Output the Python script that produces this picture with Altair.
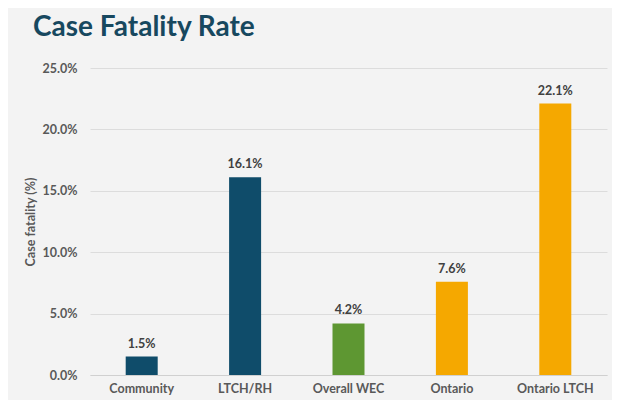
import altair as alt
import pandas as pd

categories = ["Community", "LTCH/RH", "Overall WEC", "Ontario", "Ontario LTCH"]
values = [1.5, 16.1, 4.2, 7.6, 22.1]
colors = ["#0F4C6A", "#0F4C6A", "#5E9732", "#F5A800", "#F5A800"]
y_ticks = [0, 5, 10, 15, 20, 25]

df = pd.DataFrame({"category": categories, "value": values, "color": colors})
df["label"] = [f"{v:.1f}%" for v in values]

FONT = "Lato"

x = alt.X("category:N", sort=categories, title=None,
          scale=alt.Scale(paddingInner=0.0, paddingOuter=0.0),
          axis=alt.Axis(labelAngle=0, labelFont=FONT, labelFontSize=12.5, labelFontWeight="bold",
                        labelColor="#595959", labelPadding=7, ticks=False,
                        domain=True, domainColor="#D0D0D0"))
y = alt.Y("value:Q", title="Case fatality (%)",
          scale=alt.Scale(domain=[0, 25], nice=False),
          axis=alt.Axis(values=y_ticks, labelExpr="format(datum.value, '.1f') + '%'",
                        labelFont=FONT, labelFontSize=12.5, labelFontWeight="bold",
                        labelColor="#595959", labelPadding=13, ticks=False, domain=False,
                        gridColor="#DCDCDC", titleFont=FONT, titleFontSize=12.5,
                        titleFontWeight="bold", titleColor="#595959", titlePadding=5))

bars = alt.Chart(df).mark_bar(size=32).encode(
    x=x, y=y, color=alt.Color("color:N", scale=None))

text = alt.Chart(df).mark_text(baseline="bottom", dy=-6, font=FONT, fontSize=12.5,
                               fontWeight="bold", color="#404040").encode(
    x=alt.X("category:N", sort=categories), y="value:Q", text="label:N")

chart = (bars + text).properties(
    width=517, height=307,
    autosize=alt.AutoSizeParams(type="none"),
    padding={"left": 82, "top": 60, "right": 5, "bottom": 25},
    background="#F3F3F3",
    title=alt.TitleParams("Case Fatality Rate", anchor="start", frame="group",
                          font=FONT, fontSize=28, fontWeight="bold", color="#17485F",
                          dx=-57, dy=12, baseline="bottom"),
).configure_view(stroke=None)

chart.save("out.html", embed_options={"renderer": "svg", "actions": False})
